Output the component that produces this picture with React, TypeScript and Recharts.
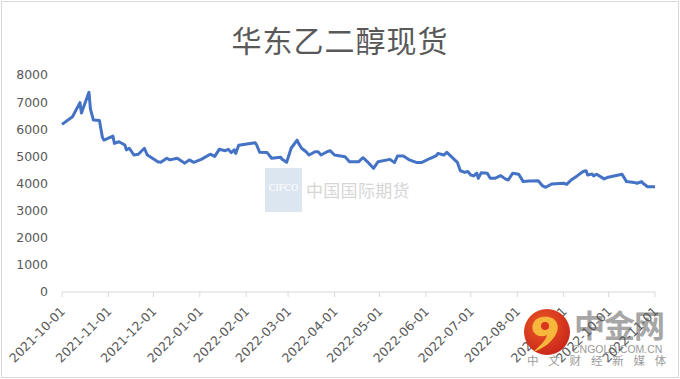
import { LineChart, Line, XAxis, YAxis } from 'recharts'

const START = '2021-10-01'

const DATES = [
  '2021-10-01', '2021-10-08', '2021-10-13', '2021-10-14', '2021-10-19', '2021-10-20', '2021-10-22', '2021-10-26',
  '2021-10-28', '2021-10-29', '2021-11-01', '2021-11-04', '2021-11-05', '2021-11-08', '2021-11-12', '2021-11-13',
  '2021-11-15', '2021-11-18', '2021-11-21', '2021-11-25', '2021-11-27', '2021-12-04', '2021-12-06', '2021-12-10',
  '2021-12-12', '2021-12-17', '2021-12-22', '2021-12-25', '2021-12-28', '2022-01-02', '2022-01-08', '2022-01-11',
  '2022-01-14', '2022-01-18', '2022-01-20', '2022-01-22', '2022-01-24', '2022-01-25', '2022-01-27', '2022-02-07',
  '2022-02-08', '2022-02-10', '2022-02-15', '2022-02-18', '2022-02-24', '2022-02-25', '2022-02-28', '2022-03-03',
  '2022-03-07', '2022-03-08', '2022-03-10', '2022-03-13', '2022-03-15', '2022-03-19', '2022-03-21', '2022-03-23',
  '2022-03-27', '2022-03-29', '2022-04-01', '2022-04-08', '2022-04-11', '2022-04-17', '2022-04-20', '2022-04-23',
  '2022-04-27', '2022-04-30', '2022-05-08', '2022-05-11', '2022-05-13', '2022-05-17', '2022-05-21', '2022-05-26',
  '2022-05-29', '2022-06-04', '2022-06-08', '2022-06-09', '2022-06-13', '2022-06-15', '2022-06-18', '2022-06-22',
  '2022-06-24', '2022-06-27', '2022-06-29', '2022-07-01', '2022-07-03', '2022-07-05', '2022-07-06', '2022-07-08',
  '2022-07-12', '2022-07-14', '2022-07-17', '2022-07-21', '2022-07-24', '2022-07-26', '2022-07-29', '2022-08-02',
  '2022-08-05', '2022-08-09', '2022-08-15', '2022-08-18', '2022-08-20', '2022-08-24', '2022-09-01', '2022-09-03',
  '2022-09-06', '2022-09-10', '2022-09-14', '2022-09-16', '2022-09-17', '2022-09-20', '2022-09-21', '2022-09-23',
  '2022-09-28', '2022-09-30', '2022-10-10', '2022-10-13', '2022-10-18', '2022-10-20', '2022-10-23', '2022-10-24',
  '2022-10-27', '2022-11-01',
]

const PRICES = [
  6180, 6460, 6980, 6600, 7360, 6740, 6340, 6320,
  5700, 5600, 5670, 5750, 5480, 5540, 5420, 5240,
  5300, 5050, 5080, 5300, 5050, 4800, 4780, 4930,
  4870, 4930, 4750, 4870, 4780, 4890, 5080, 5000,
  5260, 5210, 5260, 5140, 5240, 5110, 5410, 5500,
  5420, 5150, 5140, 4930, 4970, 4890, 4780, 5300,
  5600, 5480, 5300, 5170, 5050, 5170, 5170, 5050,
  5170, 5210, 5050, 4990, 4800, 4800, 4950, 4800,
  4560, 4800, 4890, 4770, 5010, 5010, 4870, 4770,
  4770, 4930, 5030, 5110, 5050, 5150, 4990, 4780,
  4470, 4410, 4440, 4310, 4280, 4380, 4190, 4400,
  4380, 4190, 4190, 4290, 4170, 4130, 4380, 4340,
  4070, 4090, 4100, 3910, 3860, 3980, 4010, 3970,
  4130, 4280, 4440, 4470, 4310, 4350, 4280, 4340,
  4170, 4220, 4340, 4070, 4040, 4010, 4070, 4010,
  3880, 3880,
]

const MONTH_TICKS = [
  '2021-10-01', '2021-11-01', '2021-12-01', '2022-01-01', '2022-02-01', '2022-03-01', '2022-04-01',
  '2022-05-01', '2022-06-01', '2022-07-01', '2022-08-01', '2022-09-01', '2022-10-01', '2022-11-01',
]

const Y_TICKS = [0, 1000, 2000, 3000, 4000, 5000, 6000, 7000, 8000]

const DAY = 86400000
const dayOf = (s: string) => Math.round((Date.parse(s) - Date.parse(START)) / DAY)
const dateOf = (d: number) => new Date(Date.parse(START) + d * DAY).toISOString().slice(0, 10)

const data = DATES.map((d, i) => ({ t: dayOf(d), price: PRICES[i] }))
const xTicks = MONTH_TICKS.map(dayOf)

const FONT = '"DejaVu Sans", sans-serif'
const CJK = '"Noto Sans CJK SC", sans-serif'

const XTick = ({ x, y, payload }: any) => (
  <g transform={`translate(${x + 4},${y + 15})`}>
    <text textAnchor="end" transform="rotate(-45)" fill="#595959" fontSize={12.5} fontFamily={FONT}>
      {dateOf(payload.value)}
    </text>
  </g>
)

export default function App() {
  return (
    <div style={{ position: 'fixed', left: 0, top: 0, width: 680, height: 379, background: '#fff', overflow: 'hidden' }}>
      <div style={{ position: 'absolute', left: 1, top: 1, width: 676, height: 375, border: '1px solid #d9d9d9' }} />
      <div
        style={{
          position: 'absolute', left: 0, top: 24, width: 680, textAlign: 'center', lineHeight: 1,
          fontFamily: CJK, fontSize: 30, color: '#595959', letterSpacing: 1,
        }}
      >
        华东乙二醇现货
      </div>

      {/* CIFCO watermark */}
      <div style={{ position: 'absolute', left: 265, top: 168, width: 37, height: 44, background: '#dce6f1' }} />
      <div style={{ position: 'absolute', left: 265, top: 183, width: 37, textAlign: 'center', lineHeight: 1, fontFamily: '"Liberation Serif", serif', fontSize: 10, color: '#fff' }}>
        CIFCO
      </div>
      <div style={{ position: 'absolute', left: 306, top: 181, lineHeight: 1, fontFamily: CJK, fontSize: 17, color: '#d6d6d6', letterSpacing: 0.3 }}>
        中国国际期货
      </div>

      {/* cngold text watermark (under the axis labels) */}
      <div style={{ position: 'absolute', left: 574, top: 308, lineHeight: 1, fontFamily: CJK, fontWeight: 700, fontSize: 31, color: '#a6a6a6', letterSpacing: -1 }}>
        中金网
      </div>
      <div style={{ position: 'absolute', left: 572, top: 344, lineHeight: 1, fontFamily: '"Liberation Sans", sans-serif', fontSize: 10.5, color: '#9a9a9a' }}>
        CNGOLD.COM.CN
      </div>
      <div style={{ position: 'absolute', left: 527, top: 355, lineHeight: 1, fontFamily: CJK, fontSize: 11.5, color: '#9a9a9a', letterSpacing: 9.8 }}>
        中文财经新媒体
      </div>

      <div style={{ position: 'absolute', left: 0, top: 0 }}>
        <LineChart width={680} height={379} data={data} margin={{ top: 75, right: 25, bottom: 0, left: 0 }}>
          <XAxis
            dataKey="t"
            type="number"
            domain={[0, dayOf('2022-11-01')]}
            ticks={xTicks}
            interval={0}
            height={87}
            stroke="#d9d9d9"
            tickSize={5}
            tickMargin={0}
            tick={<XTick />}
          />
          <YAxis
            domain={[0, 8000]}
            ticks={Y_TICKS}
            width={62}
            axisLine={false}
            tickLine={false}
            tickMargin={8}
            tick={{ fill: '#595959', fontSize: 12.5, fontFamily: FONT }}
          />
          <Line
            dataKey="price"
            type="linear"
            stroke="#4472c4"
            strokeWidth={3}
            dot={false}
            strokeLinejoin="round"
            isAnimationActive={false}
          />
        </LineChart>
      </div>

      {/* cngold logo (over the axis labels) */}
      <svg style={{ position: 'absolute', left: 0, top: 0 }} width={680} height={379}>
        <defs>
          <radialGradient id="lg" cx="0.4" cy="0.35" r="0.7">
            <stop offset="0" stopColor="#ec5a24" />
            <stop offset="1" stopColor="#c8241a" />
          </radialGradient>
        </defs>
        <circle cx={547} cy={332} r={23} fill="url(#lg)" />
        <path d="M543 317 C555 315 561 325 556 334 C552 342 543 349 533 352 C541 345 546 340 547 335 C538 339 530 332 533 324 C535 319 539 317 543 317 Z" fill="#f6b73c" />
        <circle cx={545} cy={326} r={4} fill="#d9361d" />
      </svg>
    </div>
  )
}
